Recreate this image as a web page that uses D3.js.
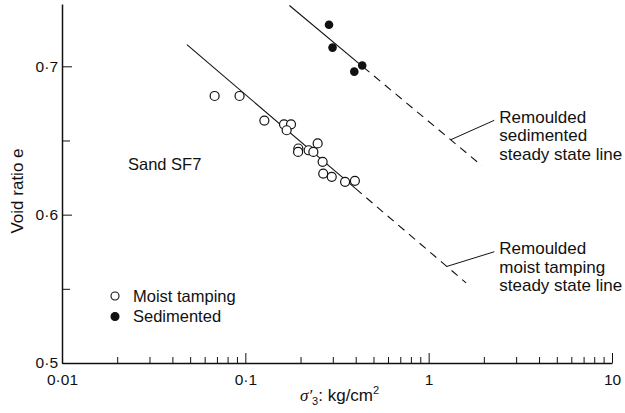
<!DOCTYPE html>
<html>
<head>
<meta charset="utf-8">
<script src="https://cdn.jsdelivr.net/npm/d3@7"></script>
<style>
  html, body { margin: 0; padding: 0; background: #fff; }
  svg { display: block; font-family: "Liberation Sans", Arial, Helvetica, sans-serif; }
  .axis path, .axis line { stroke: #111; }
  .axis text { fill: #111; font-size: 15.5px; }
</style>
</head>
<body>
<div id="chart"></div>
<script>
// Sand SF7 - void ratio vs effective minor principal stress
const moistX = [0.068, 0.093, 0.127, 0.1625, 0.1775, 0.168, 0.1946, 0.194, 0.2215, 0.235, 0.248, 0.264, 0.266, 0.296, 0.350, 0.396];
const moistE = [0.680, 0.680, 0.6634, 0.6609, 0.6609, 0.6569, 0.6446, 0.6423, 0.6434, 0.6423, 0.648, 0.6356, 0.6277, 0.6255, 0.6221, 0.6228];

const sedX = [0.286, 0.299, 0.393, 0.434];
const sedE = [0.728, 0.7126, 0.6964, 0.7005];

// steady state lines: solid over the data, dashed beyond
const moistLineX = [0.048, 0.40, 1.6];
const moistLineE = [0.7146, 0.6175, 0.554];
const sedLineX = [0.174, 0.44, 1.95];
const sedLineE = [0.741, 0.6995, 0.633];

// annotation leaders [from, to] in data units
const sedNoteX = [1.32, 2.28];
const sedNoteE = [0.6505, 0.6636];
const sedNoteText = ["Remoulded", "sedimented", "steady state line"];
const moistNoteX = [1.25, 2.28];
const moistNoteE = [0.565, 0.575];
const moistNoteText = ["Remoulded", "moist tamping", "steady state line"];

const xTickVals = [0.01, 0.1, 1, 10];
const xTickLabels = ["0·01", "0·1", "1", "10"];
const yTickVals = [0.5, 0.6, 0.7];
const yTickLabels = ["0·5", "0·6", "0·7"];
const yMinorVals = [0.55, 0.65];

const width = 625, height = 413;
const ink = "#111";

const svg = d3.select("#chart").append("svg")
  .attr("width", width)
  .attr("height", height);

const x = d3.scaleLog().domain([0.01, 10]).range([62, 612]);
const y = d3.scaleLinear().domain([0.5, 0.742]).range([363, 4]);

// minor log ticks 2..9 in each decade
const xMinorVals = [];
for (let d = 0.01; d < 10; d *= 10) {
  for (let k = 2; k <= 9; k++) xMinorVals.push(+(d * k).toPrecision(2));
}

// X axis
svg.append("g")
  .attr("class", "axis")
  .attr("transform", `translate(0,${y(0.5)})`)
  .call(d3.axisBottom(x).tickValues(xMinorVals).tickFormat("").tickSizeInner(-6).tickSizeOuter(0))
  .select(".domain").remove();

svg.append("g")
  .attr("class", "axis")
  .attr("transform", `translate(0,${y(0.5)})`)
  .call(d3.axisBottom(x).tickValues(xTickVals)
    .tickFormat((d, i) => xTickLabels[i])
    .tickSizeInner(-10).tickSizeOuter(0).tickPadding(11))
  .select(".domain").attr("stroke-width", 1.5);

// Y axis
svg.append("g")
  .attr("class", "axis")
  .attr("transform", `translate(${x(0.01)},0)`)
  .call(d3.axisLeft(y).tickValues(yMinorVals).tickFormat("").tickSizeInner(-8).tickSizeOuter(0))
  .select(".domain").remove();

svg.append("g")
  .attr("class", "axis")
  .attr("transform", `translate(${x(0.01)},0)`)
  .call(d3.axisLeft(y).tickValues(yTickVals)
    .tickFormat((d, i) => yTickLabels[i])
    .tickSizeInner(-10).tickSizeOuter(0).tickPadding(4))
  .select(".domain").attr("stroke-width", 1.5);

// Axis titles
svg.append("text")
  .attr("transform", `translate(23,191) rotate(-90)`)
  .attr("text-anchor", "middle")
  .attr("font-size", "17px")
  .attr("fill", ink)
  .text("Void ratio e");

const xTitle = svg.append("text")
  .attr("x", 300)
  .attr("y", 401)
  .attr("font-size", "17px")
  .attr("fill", ink);
xTitle.append("tspan").attr("font-family", "'Liberation Serif', 'DejaVu Serif', serif").attr("font-style", "italic").text("σ′");
xTitle.append("tspan").attr("font-size", "11px").attr("dy", 4).text("3");
xTitle.append("tspan").attr("dy", -4).text(": kg/cm");
xTitle.append("tspan").attr("font-size", "11px").attr("dy", -7).text("2");

// Steady state lines
const lineGen = d3.line().x(d => x(d[0])).y(d => y(d[1]));

function drawSSL(xs, es) {
  svg.append("path")
    .datum([[xs[0], es[0]], [xs[1], es[1]]])
    .attr("fill", "none")
    .attr("stroke", ink)
    .attr("stroke-width", 1.1)
    .attr("d", lineGen);
  svg.append("path")
    .datum([[xs[1], es[1]], [xs[2], es[2]]])
    .attr("fill", "none")
    .attr("stroke", ink)
    .attr("stroke-width", 1.1)
    .attr("stroke-dasharray", "8,6")
    .attr("d", lineGen);
}
drawSSL(moistLineX, moistLineE);
drawSSL(sedLineX, sedLineE);

// Annotations with leader lines
function drawNote(xs, es, lines) {
  svg.append("path")
    .datum([[xs[0], es[0]], [xs[1], es[1]]])
    .attr("fill", "none")
    .attr("stroke", ink)
    .attr("stroke-width", 1)
    .attr("d", lineGen);
  const tx = x(xs[1]) + 5;
  const ty = y(es[1]) - 3.5;
  svg.append("g").selectAll("text")
    .data(lines)
    .join("text")
    .attr("x", tx)
    .attr("y", (d, i) => ty + i * 18.5)
    .attr("dy", "0.35em")
    .attr("font-size", "17px")
    .attr("fill", ink)
    .text(d => d);
}
drawNote(sedNoteX, sedNoteE, sedNoteText);
drawNote(moistNoteX, moistNoteE, moistNoteText);

// Data points
svg.append("g").selectAll("circle")
  .data(d3.zip(moistX, moistE))
  .join("circle")
  .attr("cx", d => x(d[0]))
  .attr("cy", d => y(d[1]))
  .attr("r", 4.5)
  .attr("fill", "#fff")
  .attr("stroke", ink)
  .attr("stroke-width", 1.2);

svg.append("g").selectAll("circle")
  .data(d3.zip(sedX, sedE))
  .join("circle")
  .attr("cx", d => x(d[0]))
  .attr("cy", d => y(d[1]))
  .attr("r", 4.3)
  .attr("fill", ink);

// Sample label
svg.append("text")
  .attr("x", 128)
  .attr("y", 164)
  .attr("dy", "0.35em")
  .attr("font-size", "16.5px")
  .attr("fill", ink)
  .text("Sand SF7");

// Legend
const legend = [
  { label: "Moist tamping", fill: "#fff" },
  { label: "Sedimented", fill: ink }
];
const lg = svg.append("g").attr("transform", "translate(115,296)");
lg.selectAll("circle")
  .data(legend)
  .join("circle")
  .attr("cx", 0)
  .attr("cy", (d, i) => i * 20.5)
  .attr("r", 4)
  .attr("fill", d => d.fill)
  .attr("stroke", ink)
  .attr("stroke-width", 1.1);
lg.selectAll("text")
  .data(legend)
  .join("text")
  .attr("x", 18)
  .attr("y", (d, i) => i * 20.5)
  .attr("dy", "0.35em")
  .attr("font-size", "16.5px")
  .attr("fill", ink)
  .text(d => d.label);
</script>
</body>
</html>
